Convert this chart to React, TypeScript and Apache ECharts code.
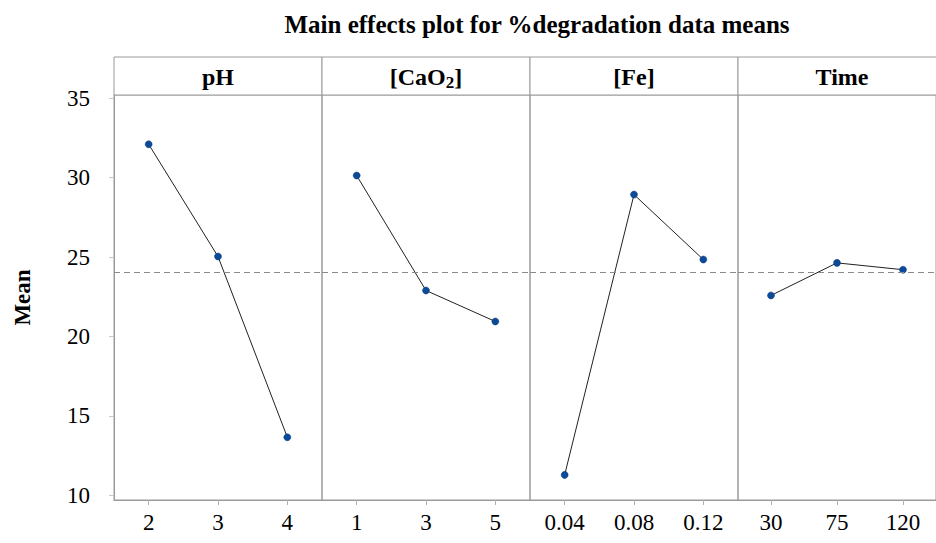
import React, { useEffect, useRef } from "react";
import * as echarts from "echarts";

const factorNames = ["pH", "[CaO₂]", "[Fe]", "Time"];
const phLevels = ["2", "3", "4"];
const phMeans = [32.1, 25.03, 13.65];
const caLevels = ["1", "3", "5"];
const caMeans = [30.13, 22.89, 20.94];
const feLevels = ["0.04", "0.08", "0.12"];
const feMeans = [11.28, 28.93, 24.84];
const timeLevels = ["30", "75", "120"];
const timeMeans = [22.58, 24.63, 24.2];
const grandMean = 24.02;
const yTicks = [10, 15, 20, 25, 30, 35];
const titleText = "Main effects plot for %degradation data means";
const yName = "Mean";

const FONT = '"Liberation Serif", "Times New Roman", Times, serif';

function headerText(name: string) {
  // render chemical subscript digits as rich-text subscripts
  const m = name.match(/^(.*?)([₀-₉])(.*)$/);
  if (!m) return `{a|${name}}`;
  const digit = String.fromCharCode(m[2].charCodeAt(0) - 0x2080 + 48);
  return `{a|${m[1]}}{s|${digit}}{a|${m[3]}}`;
}

export default function App() {
  const ref = useRef<HTMLDivElement>(null);
  useEffect(() => {
    if (!ref.current) return;
    const chart = echarts.init(ref.current, undefined, { renderer: "svg" });
    const levels = [phLevels, caLevels, feLevels, timeLevels];
    const means = [phMeans, caMeans, feMeans, timeMeans];
    const L0 = 114;
    const W = 208;
    const TOP = 95;
    const BOTTOM = 500;
    const HEAD_TOP = 57;
    const grids = levels.map((_, i) => ({
      left: L0 + W * i,
      width: W,
      top: TOP,
      height: BOTTOM - TOP,
      show: true,
      borderColor: "#9a9a9a",
      borderWidth: 1,
      backgroundColor: "transparent",
    }));
    const xAxes = levels.map((lv, i) => ({
      type: "category",
      gridIndex: i,
      data: lv,
      boundaryGap: true,
      axisLine: { show: true, lineStyle: { color: "#9a9a9a", width: 1 } },
      axisTick: { show: true, alignWithLabel: true, length: 5, lineStyle: { color: "#b0b0b0" } },
      axisLabel: { color: "#000", fontFamily: FONT, fontSize: 23, margin: 11 },
      splitLine: { show: false },
    }));
    const yAxes = levels.map((_, i) => ({
      type: "value",
      gridIndex: i,
      min: 9.7,
      max: 35.2,
      show: i === 0,
      axisLine: { show: i === 0, lineStyle: { color: "#9a9a9a", width: 1 } },
      axisTick: { show: i === 0, length: 5, customValues: yTicks, lineStyle: { color: "#c8c8c8" } },
      axisLabel: {
        show: i === 0,
        customValues: yTicks,
        color: "#000",
        fontFamily: FONT,
        fontSize: 23,
        margin: 24,
      },
      splitLine: { show: false },
    }));
    const series = levels.map((_, i) => ({
      type: "line",
      xAxisIndex: i,
      yAxisIndex: i,
      data: means[i],
      symbol: "circle",
      symbolSize: 7,
      itemStyle: { color: "#0b4a98", borderColor: "#083a7a", borderWidth: 0.5 },
      lineStyle: { color: "#222", width: 1 },
      markLine: {
        silent: true,
        symbol: "none",
        label: { show: false },
        lineStyle: { color: "#8a8a8a", type: [6, 4], width: 1 },
        data: [{ yAxis: grandMean }],
      },
    }));
    const graphics: any[] = [];
    factorNames.forEach((name, i) => {
      graphics.push({
        type: "rect",
        shape: { x: L0 + W * i, y: HEAD_TOP, width: W, height: TOP - HEAD_TOP },
        style: { fill: "#fff", stroke: "#9a9a9a", lineWidth: 1 },
      });
      graphics.push({
        type: "text",
        x: L0 + W * i + W / 2,
        y: (HEAD_TOP + TOP) / 2 + 1,
        style: {
          text: headerText(name),
          fontFamily: FONT,
          fontSize: 24,
          fontWeight: "bold",
          fill: "#000",
          align: "center",
          verticalAlign: "middle",
          rich: {
            a: { fontFamily: FONT, fontSize: 24, fontWeight: "bold", lineHeight: 27, verticalAlign: "middle" },
            s: { fontFamily: FONT, fontSize: 17, fontWeight: "bold", lineHeight: 17, verticalAlign: "bottom" },
          },
        },
      });
    });
    graphics.push({
      type: "text",
      x: 22,
      y: (TOP + BOTTOM) / 2,
      rotation: Math.PI / 2,
      style: {
        text: yName,
        fontFamily: FONT,
        fontSize: 23,
        fontWeight: "bold",
        fill: "#000",
        align: "center",
        verticalAlign: "middle",
      },
    });
    chart.setOption({
      animation: false,
      backgroundColor: "#fff",
      title: {
        text: titleText,
        left: 532,
        top: 7,
        textAlign: "center",
        textStyle: { fontFamily: FONT, fontSize: 25, fontWeight: "bold", color: "#000" },
      },
      grid: grids,
      xAxis: xAxes,
      yAxis: yAxes,
      series,
      graphic: graphics,
    });
    return () => chart.dispose();
  }, []);
  return (
    <div
      ref={ref}
      style={{ position: "fixed", left: 0, top: 0, width: 936, height: 543 }}
    />
  );
}
